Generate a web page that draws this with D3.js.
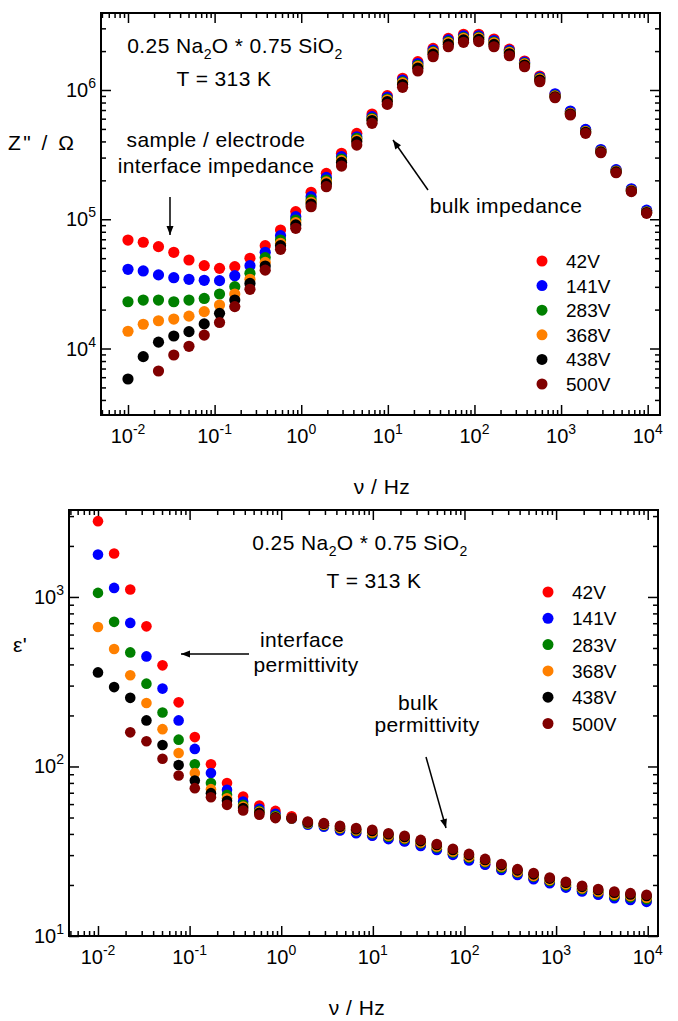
<!DOCTYPE html>
<html>
<head>
<meta charset="utf-8">
<script src="https://cdn.jsdelivr.net/npm/d3@7"></script>
<style>
  body { margin: 0; background: #fff; }
  text { font-family: "Liberation Sans", Arial, Helvetica, sans-serif; fill: #000; }
</style>
</head>
<body>
<svg id="chart" width="678" height="1021"></svg>
<script>
// measured frequencies (Hz), same grid in both panels
const freq = [0.01, 0.015, 0.0225, 0.0338, 0.0506, 0.0759, 0.114, 0.171, 0.256, 0.384,
  0.577, 0.865, 1.30, 1.95, 2.92, 4.38, 6.57, 9.85, 14.8, 22.2,
  33.3, 49.9, 74.8, 112, 168, 253, 379, 568, 852, 1280,
  1920, 2880, 4320, 6480, 9720];

const seriesNames = ["42V", "141V", "283V", "368V", "438V", "500V"];
const seriesColors = ["#ff0000", "#0000ff", "#008000", "#ff8000", "#000000", "#800000"];

// Z'' (Ohm)
const z42 = [69000, 66400, 61400, 55500, 48400, 43800, 41700, 43000, 49900, 62500,
  82600, 114600, 161600, 226500, 323600, 462000, 652000, 905000, 1232000, 1656000,
  2100000, 2510000, 2700000, 2700000, 2480000, 2070000, 1675000, 1283000, 926000, 680000,
  491000, 343000, 240000, 170600, 116400];
const z141 = [41000, 39800, 37100, 35300, 34300, 33700, 33500, 36600, 43700, 55500,
  74600, 104700, 149600, 211000, 304800, 435000, 622000, 878000, 1194000, 1603000,
  2040000, 2438000, 2622000, 2628000, 2415000, 2026000, 1641000, 1257000, 935000, 687000,
  496000, 346000, 242000, 172000, 117500];
const z283 = [23000, 23700, 23700, 23000, 23700, 24400, 26400, 30100, 38200, 50500,
  69100, 98600, 141000, 201000, 292600, 422600, 604000, 851000, 1156000, 1549000,
  1980000, 2366000, 2547000, 2559000, 2350000, 1977000, 1608000, 1231000, 903600, 663700,
  479700, 337300, 236000, 167600, 114300];
const z368 = [13600, 15400, 16400, 16900, 17800, 19300, 21700, 26400, 34300, 46400,
  65200, 94200, 135200, 194300, 284000, 410000, 593000, 837000, 1138000, 1524000,
  1952000, 2331000, 2512000, 2526000, 2317000, 1954000, 1592000, 1219000, 898500, 659900,
  476400, 335400, 234700, 166900, 113800];
const z438 = [5810, 8650, 11200, 12500, 13500, 15500, 18700, 23700, 31900, 43500,
  62500, 90400, 131200, 187600, 275400, 398000, 580000, 813000, 1102000, 1475000,
  1894000, 2262000, 2441000, 2460000, 2254000, 1908000, 1560000, 1194000, 887000, 652300,
  471000, 331900, 232300, 165400, 112700];
const z500 = [null, null, 6700, 8910, 10400, 12700, 15900, 21100, 28700, 40400,
  58500, 85100, 125000, 178600, 258000, 375000, 552000, 774000, 1049000, 1403000,
  1810000, 2160000, 2340000, 2366000, 2160000, 1840000, 1514000, 1159000, 872000, 641000,
  462000, 327000, 229000, 163500, 111100];

// epsilon'
const e42 = [2800, 1803, 1107, 671, 395, 239, 149, 103, 79.8, 66.5,
  58.9, 54.7, 50.8, 47.0, 45.0, 42.2, 40.7, 39.3, 37.6, 36.4,
  34.3, 32.5, 30.4, 28.2, 26.5, 24.7, 23.1, 21.8, 20.7, 19.5,
  18.5, 17.7, 16.9, 16.5, 16.1];
const e141 = [1778, 1131, 703, 446, 288, 187, 127, 91.4, 72.8, 62.1,
  56.3, 52.6, 49.2, 45.3, 44.1, 41.9, 40.4, 39.0, 37.3, 36.1,
  34.0, 32.2, 30.1, 27.9, 26.3, 24.5, 22.9, 21.6, 20.5, 19.3,
  18.3, 17.5, 16.7, 16.3, 15.9];
const e283 = [1057, 713, 471, 308, 208, 144, 103, 79.8, 68.0, 59.4,
  54.7, 51.2, 49.5, 46.0, 45.0, 43.0, 41.6, 40.3, 38.5, 37.3,
  35.2, 33.3, 31.1, 28.9, 27.2, 25.3, 23.7, 22.4, 21.1, 19.9,
  18.9, 18.1, 17.3, 16.9, 16.5];
const e368 = [665, 493, 345, 237, 166, 120, 91.4, 73.5, 65.0, 58.0,
  54.0, 50.5, 49.4, 46.3, 45.3, 43.4, 42.0, 40.8, 39.0, 37.7,
  35.6, 33.7, 31.5, 29.3, 27.5, 25.7, 23.9, 22.6, 21.4, 20.2,
  19.1, 18.3, 17.6, 17.2, 16.8];
const e438 = [359, 294, 254, 187, 134, 102, 82.7, 69.6, 62.7, 56.8,
  53.3, 50.1, 49.5, 46.8, 45.9, 44.1, 42.7, 41.6, 39.8, 38.4,
  36.3, 34.4, 32.2, 30.0, 28.1, 26.2, 24.4, 23.1, 21.8, 20.6,
  19.5, 18.7, 18.0, 17.6, 17.2];
const e500 = [null, null, 159, 141, 111, 88.5, 74.5, 65.9, 59.4, 55.0,
  51.9, 49.6, 49.6, 47.3, 46.3, 44.7, 43.3, 42.3, 40.4, 39.0,
  36.9, 34.9, 32.7, 30.5, 28.5, 26.6, 24.8, 23.5, 22.1, 20.9,
  19.8, 18.95, 18.3, 17.9, 17.5];

const xMajor = [1e-2, 1e-1, 1, 1e1, 1e2, 1e3, 1e4];
const xExp = ["-2", "-1", "0", "1", "2", "3", "4"];

const svg = d3.select("#chart");

function minorTicks(domain) {
  const out = [];
  const lo = Math.floor(Math.log10(domain[0])), hi = Math.ceil(Math.log10(domain[1]));
  for (let d = lo; d <= hi; d++) {
    for (let k = 2; k <= 9; k++) {
      const v = k * Math.pow(10, d);
      if (v > domain[0] && v < domain[1]) out.push(v);
    }
  }
  return out;
}

function tickAxis(g, axis, values, size, transform) {
  g.append("g")
    .attr("transform", transform)
    .call(axis.tickValues(values).tickSize(-size).tickSizeOuter(0).tickFormat(""))
    .call(a => a.select(".domain").remove())
    .call(a => a.selectAll("line").attr("stroke", "#000").attr("stroke-width", 1.5));
}

function powLabel(sel, exp) {
  sel.append("tspan").text("10");
  sel.append("tspan").attr("font-size", 14).attr("dy", -9).text(exp);
}

function arrow(g, x1, y1, x2, y2) {
  g.append("line")
    .attr("x1", x1).attr("y1", y1).attr("x2", x2).attr("y2", y2)
    .attr("stroke", "#000").attr("stroke-width", 1.5);
  const a = Math.atan2(y2 - y1, x2 - x1), L = 9, W = 3.5;
  const bx = x2 - L * Math.cos(a), by = y2 - L * Math.sin(a);
  const px = -Math.sin(a) * W, py = Math.cos(a) * W;
  g.append("path")
    .attr("d", `M${x2},${y2}L${bx + px},${by + py}L${bx - px},${by - py}Z`)
    .attr("fill", "#000");
}

function drawPanel(cfg) {
  const g = svg.append("g").attr("transform", `translate(${cfg.left},${cfg.top})`);
  const x = d3.scaleLog().domain(cfg.xDomain).range([0, cfg.width]);
  const y = d3.scaleLog().domain(cfg.yDomain).range([cfg.height, 0]);
  const xMin = minorTicks(cfg.xDomain), yMin = minorTicks(cfg.yDomain);

  // ticks on all four sides, pointing inward
  tickAxis(g, d3.axisBottom(x), xMajor, 10, `translate(0,${cfg.height})`);
  tickAxis(g, d3.axisBottom(x), xMin, 5, `translate(0,${cfg.height})`);
  tickAxis(g, d3.axisTop(x), xMajor, 10, "translate(0,0)");
  tickAxis(g, d3.axisTop(x), xMin, 5, "translate(0,0)");
  tickAxis(g, d3.axisLeft(y), cfg.yMajor, 10, "translate(0,0)");
  tickAxis(g, d3.axisLeft(y), yMin, 5, "translate(0,0)");
  tickAxis(g, d3.axisRight(y), cfg.yMajor, 10, `translate(${cfg.width},0)`);
  tickAxis(g, d3.axisRight(y), yMin, 5, `translate(${cfg.width},0)`);

  g.append("rect")
    .attr("width", cfg.width).attr("height", cfg.height)
    .attr("fill", "none").attr("stroke", "#000").attr("stroke-width", 2);

  // tick labels
  xMajor.forEach((v, i) => {
    g.append("text").attr("x", x(v)).attr("y", cfg.height + 28)
      .attr("text-anchor", "middle").attr("font-size", 20)
      .call(powLabel, xExp[i]);
  });
  cfg.yMajor.forEach((v, i) => {
    g.append("text").attr("x", -5).attr("y", y(v) + 7)
      .attr("text-anchor", "end").attr("font-size", 20)
      .call(powLabel, cfg.yExp[i]);
  });

  // data
  cfg.series.forEach((vals, s) => {
    const pts = freq.map((f, i) => ({f, v: vals[i]})).filter(d => d.v != null);
    g.append("g").selectAll("circle").data(pts).join("circle")
      .attr("cx", d => x(d.f)).attr("cy", d => y(d.v))
      .attr("r", cfg.r).attr("fill", seriesColors[s]);
  });

  // legend
  seriesNames.forEach((name, s) => {
    const ly = cfg.legend.y + s * cfg.legend.step;
    g.append("circle").attr("cx", cfg.legend.x).attr("cy", ly).attr("r", 5.5)
      .attr("fill", seriesColors[s]);
    g.append("text").attr("x", cfg.legend.x + 24).attr("y", ly + 7)
      .attr("font-size", 19).text(name);
  });

  // composition + temperature
  const t1 = g.append("text").attr("x", cfg.title.x).attr("y", cfg.title.y)
    .attr("text-anchor", "middle").attr("font-size", 21).attr("letter-spacing", 0.4);
  t1.append("tspan").text("0.25 Na");
  t1.append("tspan").attr("font-size", 14).attr("dy", 6).text("2");
  t1.append("tspan").attr("dy", -6).text("O * 0.75 SiO");
  t1.append("tspan").attr("font-size", 14).attr("dy", 6).text("2");
  g.append("text").attr("x", cfg.temp.x).attr("y", cfg.temp.y)
    .attr("text-anchor", "middle").attr("font-size", 21).attr("letter-spacing", 0.4)
    .text("T = 313 K");

  cfg.notes.forEach(n => {
    g.append("text").attr("x", n.x).attr("y", n.y)
      .attr("text-anchor", "middle").attr("font-size", 21).attr("letter-spacing", 0.4)
      .text(n.text);
  });
  cfg.arrows.forEach(a => arrow(g, a[0], a[1], a[2], a[3]));

  // axis titles
  svg.append("text").attr("x", cfg.xTitle.x).attr("y", cfg.xTitle.y)
    .attr("text-anchor", "middle").attr("font-size", 21).attr("letter-spacing", 0.5)
    .text("\u03bd / Hz");
  svg.append("text").attr("x", cfg.yTitle.x).attr("y", cfg.yTitle.y)
    .attr("font-size", 21).attr("letter-spacing", cfg.yTitle.spacing)
    .text(cfg.yTitle.text);
}

drawPanel({
  left: 101, top: 13, width: 559, height: 402,
  xDomain: [4.88e-3, 1.387e4], yDomain: [3059, 3.942e6],
  yMajor: [1e4, 1e5, 1e6], yExp: ["4", "5", "6"],
  series: [z42, z141, z283, z368, z438, z500], r: 5.6,
  legend: {x: 441, y: 248, step: 24.6},
  title: {x: 134, y: 40}, temp: {x: 123, y: 73},
  notes: [
    {text: "sample / electrode", x: 115, y: 134},
    {text: "interface impedance", x: 115, y: 160},
    {text: "bulk impedance", x: 405, y: 200}
  ],
  arrows: [[69, 184, 69, 222], [327, 177, 292, 127]],
  xTitle: {x: 382, y: 494},
  yTitle: {x: 8, y: 150, text: "Z\" / \u03a9", spacing: 2.5}
});

drawPanel({
  left: 69, top: 510, width: 589, height: 426,
  xDomain: [4.827e-3, 1.295e4], yDomain: [10, 3258],
  yMajor: [1e1, 1e2, 1e3], yExp: ["1", "2", "3"],
  series: [e42, e141, e283, e368, e438, e500], r: 5.3,
  legend: {x: 479, y: 82, step: 26.3},
  title: {x: 291, y: 40}, temp: {x: 305, y: 78},
  notes: [
    {text: "interface", x: 233, y: 137},
    {text: "permittivity", x: 237, y: 162},
    {text: "bulk", x: 349, y: 200},
    {text: "permittivity", x: 358, y: 222}
  ],
  arrows: [[180, 144, 112, 144], [357, 247, 377, 318]],
  xTitle: {x: 357, y: 1015},
  yTitle: {x: 13, y: 652, text: "\u03b5'", spacing: 0.5}
});
</script>
</body>
</html>
